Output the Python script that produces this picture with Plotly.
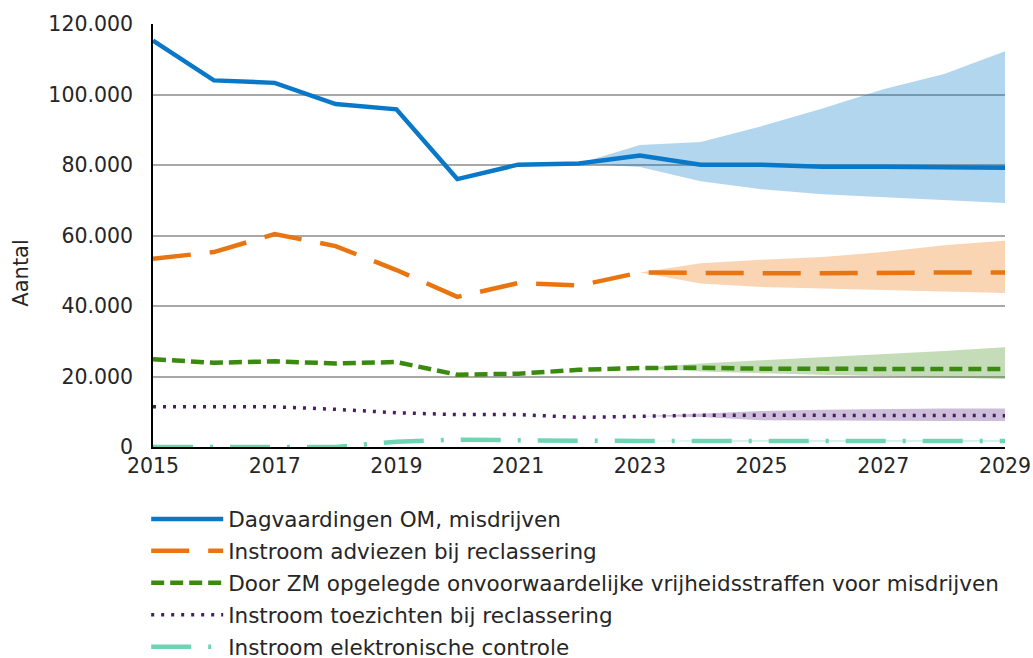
import plotly.graph_objects as go

years = list(range(2015, 2030))

# Realised + forecast values per series
dagvaardingen = [115300, 104000, 103300, 97300, 95800, 76000, 80100, 80400, 82700,
                 80100, 80100, 79500, 79500, 79500, 79200]
adviezen = [53400, 55300, 60400, 57000, 50200, 42600, 46500, 45800, 49500,
            49300, 49300, 49300, 49500, 49500, 49500]
vrijheidsstraffen = [24900, 23900, 24300, 23700, 24100, 20500, 20800, 21900, 22400,
                     22500, 22200, 22100, 22100, 22100, 22100]
toezichten = [11400, 11400, 11400, 10700, 9700, 9200, 9200, 8400, 8700,
              9000, 9000, 9000, 9000, 9000, 8900]
elektronisch = [0, 0, 0, 0, 1500, 2100, 1900, 1700, 1700,
                1700, 1700, 1700, 1700, 1700, 1700]

# Forecast bandwidths (lower / upper)
band_years_dag = list(range(2022, 2030))
dag_hi = [80400, 85700, 86500, 91000, 96000, 101500, 105800, 112300]
dag_lo = [80400, 79400, 75400, 73100, 71700, 70800, 70100, 69200]

band_years = list(range(2023, 2030))
adv_hi = [49500, 52100, 53100, 53900, 55300, 57200, 58500]
adv_lo = [49500, 46400, 45400, 44800, 44500, 44100, 43700]
vri_hi = [22400, 23700, 24600, 25400, 26300, 27200, 28300]
vri_lo = [22400, 21400, 20900, 20500, 20000, 19700, 19300]
toe_hi = [8700, 9400, 10200, 10600, 10800, 10900, 10900]
toe_lo = [8700, 8500, 7600, 7400, 7400, 7400, 7400]
ele_hi = [1700, 2000, 2000, 2000, 2000, 2000, 2000]
ele_lo = [1700, 1400, 1400, 1400, 1400, 1400, 1400]

y_ticks = [0, 20000, 40000, 60000, 80000, 100000, 120000]
x_ticks = [2015, 2017, 2019, 2021, 2023, 2025, 2027, 2029]

fig = go.Figure()


def band(xs, lo, hi, color):
    fig.add_trace(go.Scatter(
        x=xs + xs[::-1], y=hi + lo[::-1], fill="toself", fillcolor=color,
        line=dict(width=0), mode="lines", hoverinfo="skip", showlegend=False))


band(band_years_dag, dag_lo, dag_hi, "rgba(0,120,200,0.30)")
band(band_years, adv_lo, adv_hi, "rgba(235,125,20,0.32)")
band(band_years, vri_lo, vri_hi, "rgba(60,140,20,0.30)")
band(band_years, toe_lo, toe_hi, "rgba(85,35,125,0.30)")
band(band_years, ele_lo, ele_hi, "rgba(110,210,180,0.30)")

series = [
    ("Dagvaardingen OM, misdrijven", dagvaardingen, "#0a78c8", 4.5, "solid"),
    ("Instroom adviezen bij reclassering", adviezen, "#e87511", 4.5, "38px,19px"),
    ("Door ZM opgelegde onvoorwaardelijke vrijheidsstraffen voor misdrijven",
     vrijheidsstraffen, "#3a8a10", 4.5, "13px,6px"),
    ("Instroom toezichten bij reclassering", toezichten, "#4a1b6b", 3.5, "3px,7px"),
    ("Instroom elektronische controle", elektronisch, "#6fd4b4", 4.5,
     "40px,17px,3px,17px"),
]

for i, (name, vals, color, width, dash) in enumerate(series):
    fig.add_trace(go.Scatter(
        x=years, y=vals, name=name, mode="lines", legendgroup=str(i),
        line=dict(color=color, width=width, dash=dash)))

fig.update_layout(
    width=1033, height=658,
    margin=dict(l=153, r=28, t=24, b=211),
    paper_bgcolor="white", plot_bgcolor="white",
    separators=",.",
    font=dict(family="DejaVu Sans, Verdana, sans-serif", size=20, color="#262626"),
    showlegend=True,
    legend=dict(x=-0.008, xanchor="left", xref="paper",
                y=0.2425, yanchor="top", yref="container",
                orientation="v", itemwidth=72, tracegroupgap=1,
                font=dict(size=21.5), bgcolor="rgba(0,0,0,0)"),
    annotations=[dict(text="Aantal", textangle=-90, showarrow=False,
                      xref="paper", yref="paper", x=-0.156, y=0.41,
                      xanchor="center", yanchor="middle",
                      font=dict(size=21, color="#262626"))],
)

fig.update_xaxes(range=[2015, 2029], tickvals=x_ticks, showgrid=False,
                 showline=True, linecolor="black", linewidth=1.5,
                 ticks="", zeroline=False, tickfont=dict(size=20.5),
                 automargin=False)
fig.update_yaxes(range=[0, 120000], tickvals=y_ticks, tickformat=",d",
                 showgrid=True, gridcolor="#a8a8a8", gridwidth=2,
                 showline=True, linecolor="black", linewidth=1.5,
                 ticks="", zeroline=False, tickfont=dict(size=20.5),
                 ticklabelstandoff=14, automargin=False)

fig.write_html("out.html")
